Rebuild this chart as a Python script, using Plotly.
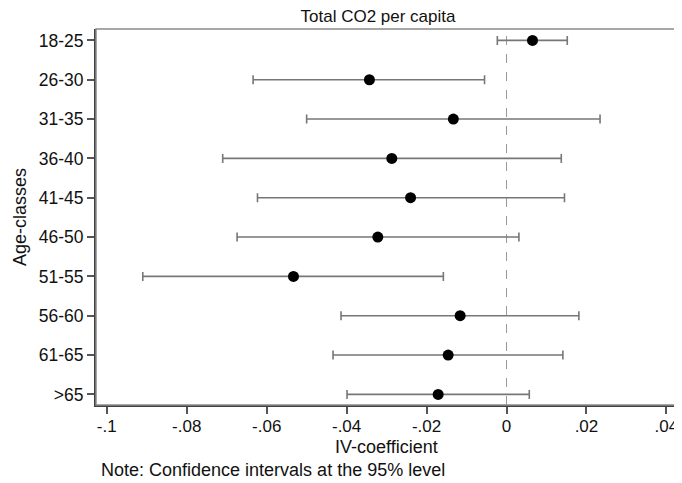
import plotly.graph_objects as go

age_classes = ["18-25", "26-30", "31-35", "36-40", "41-45", "46-50", "51-55", "56-60", "61-65", ">65"]
coef = [0.0065, -0.0343, -0.0133, -0.0287, -0.0240, -0.0322, -0.0533, -0.0116, -0.0146, -0.0171]
ci_low = [-0.0023, -0.0634, -0.0500, -0.0710, -0.0623, -0.0674, -0.0910, -0.0414, -0.0434, -0.0399]
ci_high = [0.0152, -0.0055, 0.0234, 0.0137, 0.0145, 0.0031, -0.0158, 0.0181, 0.0141, 0.0057]
x_tick_vals = [-0.1, -0.08, -0.06, -0.04, -0.02, 0, 0.02, 0.04]
x_tick_text = ["-.1", "-.08", "-.06", "-.04", "-.02", "0", ".02", ".04"]

FONT = "Liberation Sans, Arial, sans-serif"
# the page body has an 8px margin, so the figure is sized/offset to compensate
W, H = 674, 475
L, R, T, B = 88, 4, 21, 78
TXT = "#111111"

fig = go.Figure()
fig.add_trace(go.Scatter(
    x=coef, y=age_classes, mode="markers",
    marker=dict(color="black", size=11, symbol="circle"),
    error_x=dict(type="data", symmetric=False,
                 array=[h - c for h, c in zip(ci_high, coef)],
                 arrayminus=[c - l for c, l in zip(coef, ci_low)],
                 color="#777777", thickness=1.6, width=4.5),
    showlegend=False,
))
fig.add_vline(x=0, line=dict(color="#999999", width=1, dash="dash"), layer="below")

fig.add_shape(type="rect", xref="paper", yref="paper", x0=0, x1=1, y0=0, y1=1,
              line=dict(color="#8a8a8a", width=1.5), layer="above")

fig.update_layout(
    width=W, height=H,
    margin=dict(l=L, r=R, t=T, b=B),
    paper_bgcolor="white", plot_bgcolor="white",
    font=dict(family=FONT, color=TXT, size=17),
    title=dict(text="Total CO2 per capita", x=370 / W, xref="container", xanchor="center",
               y=1 - 8 / H, yref="container", yanchor="middle",
               font=dict(family=FONT, size=17, color=TXT)),
    xaxis=dict(range=[-0.1027, 0.0424], tickvals=x_tick_vals, ticktext=x_tick_text,
               showgrid=False, zeroline=False, showline=True, linecolor="#404040", linewidth=2,
               ticks="outside", ticklen=7, tickwidth=1.5, tickcolor="#555555",
               ticklabelstandoff=-2, tickfont=dict(size=17)),
    yaxis=dict(type="category", categoryorder="array", categoryarray=age_classes,
               range=[9.27, -0.29], showgrid=False, zeroline=False,
               showline=True, linecolor="#404040", linewidth=2,
               ticks="outside", ticklen=7, tickwidth=1.5, tickcolor="#555555",
               tickfont=dict(size=17.5)),
    annotations=[
        dict(text="IV-coefficient", xref="paper", yref="paper", x=0.5, y=0,
             xanchor="center", yanchor="middle", yshift=-42, showarrow=False,
             font=dict(family=FONT, size=18, color=TXT)),
        dict(text="Age-classes", xref="paper", yref="paper", x=0, y=0.5, textangle=-90,
             xanchor="center", yanchor="middle", xshift=-76, showarrow=False,
             font=dict(family=FONT, size=18, color=TXT)),
        dict(text="Note: Confidence intervals at the 95% level", xref="paper", yref="paper",
             x=(91 - L) / (W - L - R), y=0, xanchor="left", yanchor="middle", yshift=-65,
             showarrow=False, font=dict(family=FONT, size=18, color=TXT)),
    ],
)

fig.write_html("out.html")
